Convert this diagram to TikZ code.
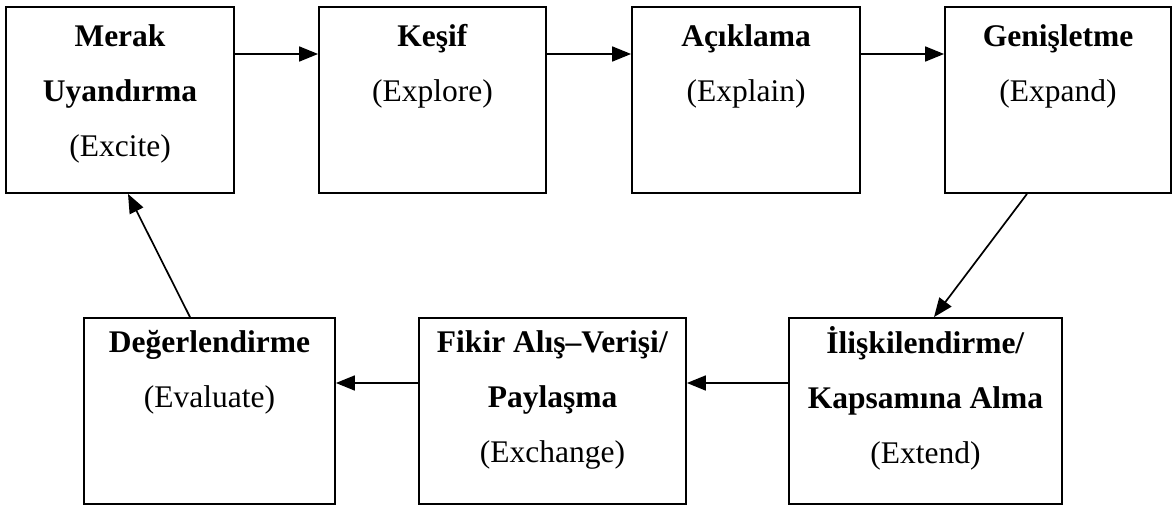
\documentclass[tikz,border=0pt]{standalone}
\usepackage{fontspec}
\setmainfont{Liberation Serif}
\usetikzlibrary{arrows.meta}

\begin{document}
\begin{tikzpicture}[x=1pt,y=-1pt,
    box/.style={draw,line width=1.8pt,rectangle,inner sep=0pt,minimum height=186pt},
    txt/.style={anchor=north,align=center,inner sep=0pt,font=\fontsize{31.5}{55}\selectfont},
    arr/.style={line width=1.7pt,-{Triangle[length=19pt,width=15pt]}}]
  \useasboundingbox (0,0) rectangle (1172,508);
  % top row
  \node[box,minimum width=228pt] (excite) at (120,100) {};
  \node[box,minimum width=227pt] (explore) at (432.5,100) {};
  \node[box,minimum width=228pt] (explain) at (746,100) {};
  \node[box,minimum width=226pt] (expand) at (1058,100) {};
  % bottom row
  \node[box,minimum width=251pt] (evaluate) at (209.5,411) {};
  \node[box,minimum width=267pt] (exchange) at (552.5,411) {};
  \node[box,minimum width=273pt] (extend) at (925.5,411) {};
  \node[txt,yshift=-1.5pt] (excitetxt) at (excite.north) {\strut\textbf{Merak}\\\textbf{Uyandırma}\\(Excite)};
  \node[txt,yshift=-1.5pt] (exploretxt) at (explore.north) {\strut\textbf{Keşif}\\(Explore)};
  \node[txt,yshift=-1.5pt] (explaintxt) at (explain.north) {\strut\textbf{Açıklama}\\(Explain)};
  \node[txt,yshift=-1.5pt] (expandtxt) at (expand.north) {\strut\textbf{Genişletme}\\(Expand)};
  \node[txt,yshift=3pt] (evaluatetxt) at (evaluate.north) {\strut\textbf{Değerlendirme}\\(Evaluate)};
  \node[txt,yshift=3pt] (exchangetxt) at (exchange.north) {\strut\textbf{Fikir Alış–Verişi/}\\\textbf{Paylaşma}\\(Exchange)};
  \node[txt,yshift=2.5pt] (extendtxt) at (extend.north) {\strut\textbf{İlişkilendirme/}\\\textbf{Kapsamına Alma}\\(Extend)};
  % arrows
  \draw[arr] ([yshift=46pt]excite.east) -- ([yshift=46pt]explore.west);
  \draw[arr] ([yshift=46pt]explore.east) -- ([yshift=46pt]explain.west);
  \draw[arr] ([yshift=46pt]explain.east) -- ([yshift=46pt]expand.west);
  \draw[arr] ([xshift=-31pt]expand.south) -- ([xshift=8.5pt]extend.north);
  \draw[arr] ([yshift=28pt]extend.west) -- ([yshift=28pt]exchange.east);
  \draw[arr] ([yshift=28pt]exchange.west) -- ([yshift=28pt]evaluate.east);
  \draw[arr] ([xshift=-19.5pt]evaluate.north) -- ([xshift=8pt]excite.south);
\end{tikzpicture}
\end{document}
